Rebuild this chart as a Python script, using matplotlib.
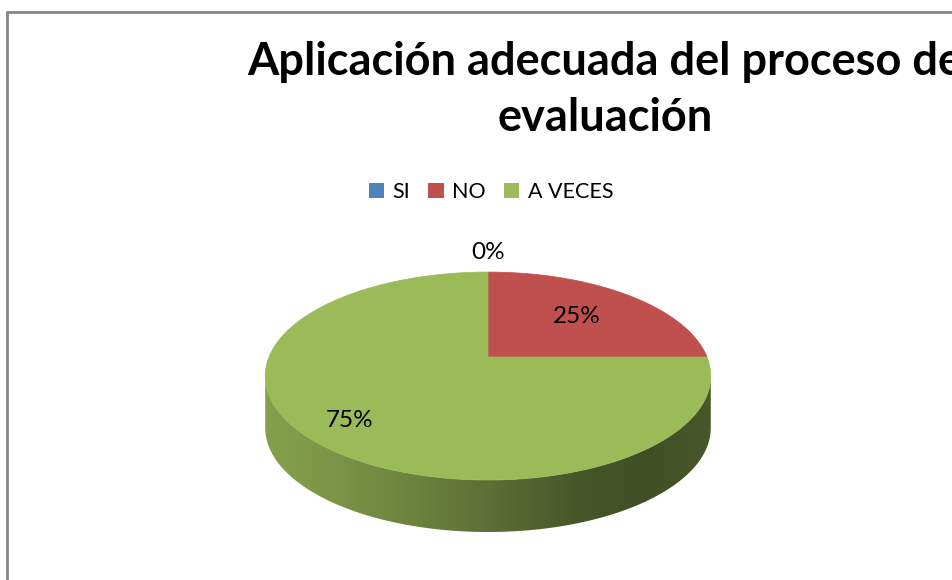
import numpy as np
import matplotlib
matplotlib.use('Agg')
import matplotlib.pyplot as plt
from matplotlib.patches import Rectangle, Polygon
from matplotlib.colors import to_rgb, LinearSegmentedColormap

categories = ['SI', 'NO', 'A VECES']
values = [0, 25, 75]
pct_labels = ['0%', '25%', '75%']
colors = ['#4F81BD', '#C0504D', '#9BBB59']
title = 'Aplicación adecuada del proceso de\nevaluación'

plt.rcParams['font.family'] = ['Lato', 'DejaVu Sans']

W, H, DPI = 952, 580, 100
fig = plt.figure(figsize=(W / DPI, H / DPI), dpi=DPI)
fig.patch.set_facecolor('white')

# 3-D pie geometry (pixels) with a mild perspective
cx, cy = 488, 357       # projected centre of the top face
a0, c0 = 219, 100.5     # horizontal / vertical half-axes
persp = 0.183           # perspective strength
depth = 52              # thickness of the pie

ax = fig.add_axes([0, 0, 1, 1])

def proj(u, v):
    den = 1 + persp * v
    return cx + a0 * u / den, cy - c0 * v / den

# let matplotlib compute the slice angles
wedges, _ = ax.pie(values, colors=colors, startangle=90, counterclock=False,
                   radius=1, center=(0, 0))
angles = [(w.theta1, w.theta2) for w in wedges]
for w in wedges:
    w.remove()

ax.set_xlim(0, W)
ax.set_ylim(H, 0)
ax.set_aspect('auto')
ax.axis('off')

# side (extrusion) of each slice visible at the front
tlim = np.degrees(np.arcsin(persp))
vis_lo, vis_hi = 180 + tlim, 360 - tlim
fac_pos = [0.0, 0.15, 0.45, 0.7, 0.85, 1.0]
fac_val = [0.86, 0.80, 0.63, 0.46, 0.42, 0.47]
xl, _ = proj(-np.sqrt(1 - persp ** 2), -persp)
xr, _ = proj(np.sqrt(1 - persp ** 2), -persp)
for (t1, t2), col in zip(angles, colors):
    for n in range(-2, 2):
        lo = max(t1, vis_lo + 360 * n)
        hi = min(t2, vis_hi + 360 * n)
        if hi - lo <= 0:
            continue
        th = np.radians(np.linspace(lo, hi, 300))
        xs, ys = proj(np.cos(th), np.sin(th))
        verts = np.vstack([np.column_stack([xs, ys]),
                           np.column_stack([xs[::-1], ys[::-1] + depth])])
        poly = Polygon(verts, closed=True, facecolor='none', edgecolor='none')
        ax.add_patch(poly)
        base = np.array(to_rgb(col))
        cmap = LinearSegmentedColormap.from_list(
            'side', [(p, tuple(base * f)) for p, f in zip(fac_pos, fac_val)])
        grad = np.linspace(0, 1, 256).reshape(1, -1)
        im = ax.imshow(grad, cmap=cmap, aspect='auto', zorder=2,
                       extent=(xl - 2, xr + 2, cy + c0 * 1.3 + depth, cy - 5))
        im.set_clip_path(poly)

# top face
for (t1, t2), col in zip(angles, colors):
    if t2 - t1 <= 0:
        continue
    th = np.radians(np.linspace(t1, t2, 300))
    xs, ys = proj(np.cos(th), np.sin(th))
    x0, y0 = proj(0, 0)
    verts = np.vstack([[x0, y0], np.column_stack([xs, ys])])
    ax.add_patch(Polygon(verts, closed=True, facecolor=col, edgecolor=col,
                         linewidth=0.5, zorder=3))

# data labels
label_dist = [1.29, 0.62, 0.8]
for (t1, t2), lab, d in zip(angles, pct_labels, label_dist):
    tm = np.radians((t1 + t2) / 2)
    lx, ly = proj(d * np.cos(tm), d * np.sin(tm))
    ax.text(lx, ly, lab, ha='center', va='center', fontsize=17.5,
            color='black', zorder=5)

# legend
handles = [Rectangle((0, 0), 1, 1, facecolor=c, edgecolor='none') for c in colors]
fig.legend(handles, categories, loc='center', bbox_to_anchor=(491 / W, 1 - 192 / H),
           ncol=3, frameon=False, handlelength=0.7, handleheight=0.7,
           handletextpad=0.4, columnspacing=0.85, fontsize=15.5)

# title (its right end is cut by the chart edge, as in the original)
fig.text(605 / W, 1 - 41 / H, title, ha='center', va='top', fontsize=32.5,
         fontweight='bold', linespacing=1.4)

# outer border
fig.patches.append(Rectangle((7 / W, -0.5), 2, 1.5 - 12 / H, transform=fig.transFigure,
                             fill=False, edgecolor='#868686', linewidth=2))

fig.savefig('out.png', dpi=DPI)
